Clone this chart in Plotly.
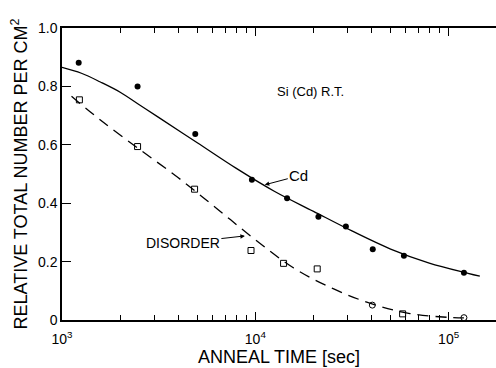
import plotly.graph_objects as go

# Cd data (filled circles)
cd_x = [1.22e3, 2.46e3, 4.89e3, 9.6e3, 1.46e4, 2.12e4, 2.94e4, 4.05e4, 5.87e4, 1.2e5]
cd_y = [0.881, 0.80, 0.637, 0.48, 0.417, 0.354, 0.32, 0.242, 0.22, 0.162]

# Disorder data (open squares)
dis_sq_x = [1.23e3, 2.46e3, 4.85e3, 9.5e3, 1.4e4, 2.09e4, 5.78e4]
dis_sq_y = [0.754, 0.594, 0.448, 0.238, 0.194, 0.175, 0.021]
# Disorder data (open circles)
dis_ci_x = [4.03e4, 1.2e5]
dis_ci_y = [0.051, 0.008]

# Fitted curves
cd_fit_x = [1.0e3, 1.26e3, 1.58e3, 2.0e3, 2.51e3, 3.16e3, 5.01e3, 7.94e3, 1.26e4, 2.0e4,
            3.16e4, 5.01e4, 7.94e4, 1.26e5, 1.45e5]
cd_fit_y = [0.865, 0.845, 0.815, 0.78, 0.737, 0.694, 0.607, 0.52, 0.44, 0.372,
            0.305, 0.243, 0.195, 0.16, 0.15]

dis_fit_x = [1.12e3, 1.58e3, 2.51e3, 3.98e3, 6.31e3, 1.0e4, 1.58e4, 2.51e4, 3.98e4,
             6.31e4, 1.0e5, 1.2e5]
dis_fit_y = [0.766, 0.685, 0.585, 0.488, 0.382, 0.275, 0.178, 0.108, 0.056,
             0.022, 0.009, 0.007]

x_major = [1e3, 1e4, 1e5]
x_major_text = ["10<sup>3</sup>", "10<sup>4</sup>", "10<sup>5</sup>"]
x_minor = [m * d for d in (1e3, 1e4) for m in range(2, 10)] + [2e5]
y_ticks = [0, 0.2, 0.4, 0.6, 0.8, 1.0]
y_tick_text = ["0", "0.2", "0.4", "0.6", "0.8", "1.0"]

FONT = "Liberation Sans"

fig = go.Figure()
fig.add_trace(go.Scatter(x=cd_fit_x, y=cd_fit_y, mode="lines",
                         line=dict(color="black", width=1.3, shape="spline", smoothing=1.0),
                         showlegend=False, hoverinfo="skip"))
fig.add_trace(go.Scatter(x=dis_fit_x, y=dis_fit_y, mode="lines",
                         line=dict(color="black", width=1.3, dash="11px,7px", shape="spline", smoothing=1.0),
                         showlegend=False, hoverinfo="skip"))
fig.add_trace(go.Scatter(x=cd_x, y=cd_y, mode="markers",
                         marker=dict(symbol="circle", size=6, color="black"),
                         showlegend=False))
fig.add_trace(go.Scatter(x=dis_sq_x, y=dis_sq_y, mode="markers",
                         marker=dict(symbol="square-open", size=6, color="black", line=dict(width=1)),
                         showlegend=False))
fig.add_trace(go.Scatter(x=dis_ci_x, y=dis_ci_y, mode="markers",
                         marker=dict(symbol="circle-open", size=6, color="black", line=dict(width=1)),
                         showlegend=False))

fig.add_annotation(x=4.049, y=0.463, xref="x", yref="y", text="Cd",
                   showarrow=True, arrowhead=2, arrowsize=0.9, arrowwidth=1, arrowcolor="black",
                   ax=34, ay=-9, font=dict(family=FONT, size=15, color="black"))
fig.add_annotation(x=3.946, y=0.288, xref="x", yref="y", text="DISORDER",
                   showarrow=True, arrowhead=2, arrowsize=0.9, arrowwidth=1, arrowcolor="black",
                   ax=-62, ay=7, font=dict(family=FONT, size=14, color="black"))
fig.add_annotation(xref="x domain", yref="y domain",
                   x=(310 - 62) / 434, y=(320 - 82) / 292, text="Si (Cd) R.T.",
                   showarrow=False, font=dict(family=FONT, size=13, color="black"))

fig.update_layout(
    width=496, height=368,
    margin=dict(l=62, r=0, t=28, b=48),
    paper_bgcolor="white", plot_bgcolor="white",
    font=dict(family=FONT, color="black"),
    xaxis=dict(type="log", range=[3.0, 5.245],
               tickmode="array", tickvals=x_major, ticktext=x_major_text,
               ticks="inside", ticklen=8, tickwidth=1, tickcolor="black",
               ticklabelstandoff=5,
               minor=dict(tickmode="array", tickvals=x_minor, ticks="inside", ticklen=5,
                          tickcolor="black", tickwidth=1, showgrid=False),
               showline=True, linecolor="black", linewidth=1.5, mirror="ticks",
               showgrid=False, zeroline=False,
               tickfont=dict(family=FONT, size=14),
               title=dict(text="ANNEAL TIME [sec]", font=dict(family=FONT, size=18), standoff=3)),
    yaxis=dict(range=[0, 1.0], tickmode="array", tickvals=y_ticks, ticktext=y_tick_text,
               ticks="inside", ticklen=9, tickwidth=1, tickcolor="black",
               showline=True, linecolor="black", linewidth=1.5, mirror=False,
               showgrid=False, zeroline=False,
               tickfont=dict(family=FONT, size=14),
               title=dict(text="RELATIVE TOTAL NUMBER PER CM<sup>2</sup>", font=dict(family=FONT, size=18), standoff=6)),
)

fig.write_html("out.html")
